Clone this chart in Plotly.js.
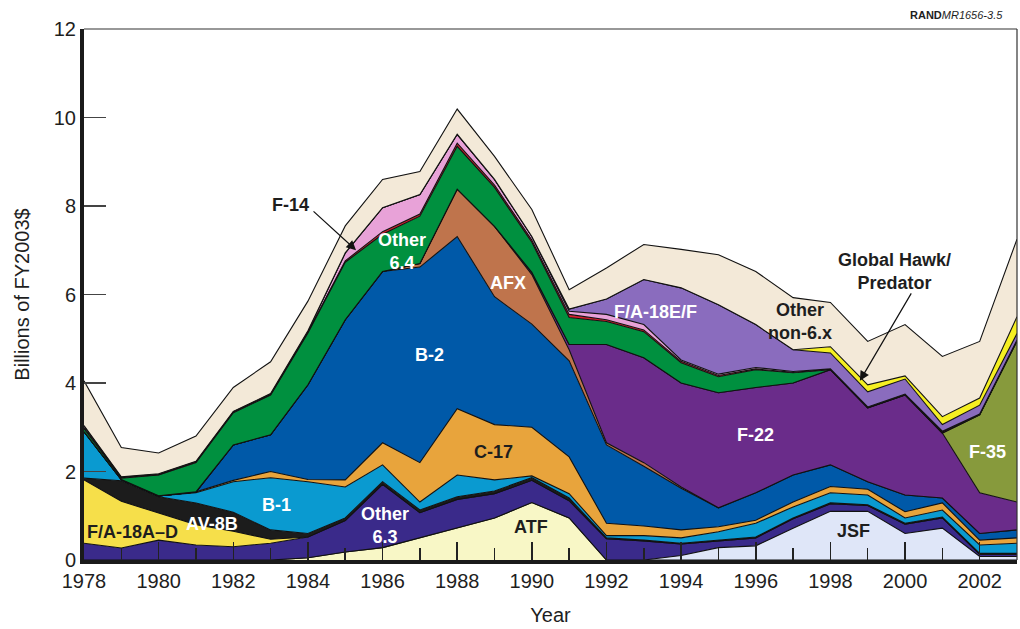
<!DOCTYPE html>
<html>
<head>
<meta charset="utf-8">
<script src="https://cdn.plot.ly/plotly-3.0.1.min.js"></script>
<style>
  html, body { margin: 0; padding: 0; background: #ffffff; }
  #chart { width: 1020px; height: 629px; }
</style>
</head>
<body>
<div id="chart"></div>
<script>
// Years
const years = [1978,1979,1980,1981,1982,1983,1984,1985,1986,1987,1988,1989,1990,
               1991,1992,1993,1994,1995,1996,1997,1998,1999,2000,2001,2002,2003];

// Series values (billions of FY2003$), stacked from bottom to top
const atf      = [0,0,0,0,0,0,0.05,0.18,0.28,0.5,0.72,0.95,1.3,0.95,0,0,0,0,0,0,0,0,0,0,0,0];
const jsf      = [0,0,0,0,0,0,0,0,0,0,0,0,0,0,0,0,0.1,0.28,0.32,0.72,1.1,1.1,0.6,0.72,0.08,0.08];
const other63  = [0.38,0.27,0.45,0.34,0.3,0.38,0.47,0.71,1.43,0.57,0.65,0.55,0.5,0.39,0.48,0.43,0.26,0.15,0.18,0.21,0.17,0.13,0.21,0.23,0.05,0.05];
const fa18ad   = [1.43,1.06,0.61,0.46,0.35,0.09,0,0,0,0,0,0,0,0,0,0,0,0,0,0,0,0,0,0,0,0];
const av8b     = [0.04,0.46,0.37,0.49,0.43,0.21,0.08,0.06,0.06,0.06,0.06,0.06,0.06,0.06,0.02,0.02,0.02,0.02,0.02,0.02,0.02,0.02,0.02,0.02,0.02,0.02];
const b1       = [1.05,0.03,0.02,0.23,0.69,1.18,1.17,0.7,0.38,0.18,0.49,0.25,0.04,0.1,0.05,0.1,0.12,0.19,0.31,0.25,0.23,0.22,0.12,0.16,0.19,0.23];
const c17      = [0,0,0,0.02,0.03,0.14,0.05,0.16,0.5,0.89,1.5,1.25,1.1,0.83,0.28,0.22,0.18,0.11,0.07,0.11,0.14,0.13,0.14,0.16,0.11,0.12];
const b2       = [0,0,0,0,0.8,0.83,2.14,3.62,3.87,4.42,3.89,2.89,2.33,2.17,1.77,1.35,0.94,0.43,0.62,0.61,0.49,0.17,0.38,0.11,0.15,0.18];
const afx      = [0,0,0,0,0,0,0,0,0,0.08,1.07,1.59,1.12,0.25,0.05,0.08,0.03,0,0,0,0,0,0,0,0,0];
const f22      = [0,0,0,0,0,0,0,0,0,0,0,0,0.05,0.12,2.22,2.37,2.35,2.6,2.38,2.08,2.15,1.67,2.26,1.47,0.92,0.63];
const f35      = [0,0,0,0,0,0,0,0,0,0,0,0,0,0,0,0,0,0,0,0,0,0,0,0,1.76,3.64];
const other64  = [0.07,0.03,0.47,0.66,0.73,0.9,1.17,1.3,0.84,1.07,0.97,0.88,0.68,0.61,0.52,0.59,0.46,0.36,0.4,0.23,0,0,0,0,0,0];
const otherRed = [0.02,0.01,0.01,0.01,0.01,0.01,0.02,0.03,0.06,0.05,0.07,0.05,0.05,0.07,0.04,0.04,0.03,0.03,0.02,0.01,0.01,0.01,0.01,0.02,0.01,0.01];
const f14      = [0.05,0.02,0.02,0.02,0.02,0.02,0.03,0.18,0.54,0.44,0.2,0.13,0.08,0.07,0.12,0.12,0.03,0.03,0.03,0.02,0.01,0.01,0.01,0.02,0.01,0.01];
const fa18ef   = [0,0,0,0,0,0,0,0,0,0,0,0,0,0.05,0.35,1.02,1.63,1.57,0.97,0.49,0.36,0.34,0.34,0.15,0.2,0.15];
const ghawk    = [0,0,0,0,0,0,0,0,0,0,0,0,0,0,0,0,0,0,0,0,0.14,0.16,0.07,0.18,0.16,0.38];
const nonsix   = [1.01,0.66,0.47,0.57,0.54,0.72,0.67,0.61,0.64,0.52,0.57,0.52,0.61,0.44,0.7,0.79,0.87,1.13,1.2,1.18,1.0,0.98,1.16,1.36,1.28,1.75];

const seriesNames  = ['ATF','JSF','Other 6.3','F/A-18A–D','AV-8B','B-1','C-17','B-2','AFX','F-22','F-35',
                      'Other 6.4','Other (red)','F-14','F/A-18E/F','Global Hawk/Predator','Other non-6.x'];
const seriesValues = [atf,jsf,other63,fa18ad,av8b,b1,c17,b2,afx,f22,f35,other64,otherRed,f14,fa18ef,ghawk,nonsix];
const seriesColors = ['#f8f7c6','#dfe6f8','#3a2a8a','#f6df4a','#1c1c1c','#0a9ad0','#e8a43c','#0059a8','#bf744c',
                      '#6a2c8a','#879a3c','#00903f','#d3202e','#e8a2d8','#8a6cbe','#f5ef22','#f3e9d8'];

const traces = seriesNames.map((name, i) => ({
  type: 'scatter',
  mode: 'lines',
  name: name,
  x: years,
  y: seriesValues[i],
  stackgroup: 'one',
  fillcolor: seriesColors[i],
  line: { color: '#111111', width: 1.1, shape: 'linear' },
  hoverinfo: 'skip',
  showlegend: false
}));

const FONT = 'Liberation Sans, Arial, Helvetica, sans-serif';
const DARK = '#1e1e1e';

function lbl(x, y, text, color) {
  return { x: x, y: y, xref: 'x', yref: 'y', text: '<b>' + text + '</b>', showarrow: false,
           font: { family: FONT, size: 18, color: color }, align: 'center' };
}

const annotations = [
  lbl(1979.31, 0.63, 'F/A-18A–D', DARK),
  lbl(1981.43, 0.81, 'AV-8B', '#ffffff'),
  lbl(1983.17, 1.24, 'B-1', '#ffffff'),
  lbl(1986.07, 0.77, 'Other<br>6.3', '#ffffff'),
  lbl(1989.98, 0.75, 'ATF', DARK),
  lbl(1988.96, 2.44, 'C-17', DARK),
  lbl(1987.27, 4.63, 'B-2', '#ffffff'),
  lbl(1989.36, 6.26, 'AFX', '#ffffff'),
  lbl(1986.52, 6.98, 'Other<br>6.4', '#ffffff'),
  lbl(1983.52, 8.02, 'F-14', DARK),
  lbl(1993.30, 5.60, 'F/A-18E/F', '#ffffff'),
  lbl(1997.19, 5.38, 'Other<br>non-6.x', DARK),
  lbl(1999.73, 6.53, 'Global Hawk/<br>Predator', DARK),
  lbl(1995.98, 2.82, 'F-22', '#ffffff'),
  lbl(2002.22, 2.44, 'F-35', '#ffffff'),
  lbl(1998.61, 0.66, 'JSF', DARK),
  // arrows
  { x: 1985.29, y: 7.0, ax: 1984.11, ay: 7.91, xref: 'x', yref: 'y', axref: 'x', ayref: 'y',
    text: '', showarrow: true, arrowhead: 2, arrowsize: 1.6, arrowwidth: 1.2, arrowcolor: '#111' },
  { x: 1998.79, y: 4.05, ax: 2000.19, ay: 6.06, xref: 'x', yref: 'y', axref: 'x', ayref: 'y',
    text: '', showarrow: true, arrowhead: 2, arrowsize: 1.6, arrowwidth: 1.2, arrowcolor: '#111' },
  // source tag
  { x: 0.987, y: 1.027, xref: 'paper', yref: 'paper', xanchor: 'right', yanchor: 'middle',
    text: '<b>RAND</b><i>MR1656-3.5</i>', showarrow: false,
    font: { family: FONT, size: 11, color: DARK } }
];

const layout = {
  width: 1020, height: 629,
  margin: { l: 84, r: 3, t: 29, b: 69 },
  paper_bgcolor: '#ffffff', plot_bgcolor: '#ffffff',
  font: { family: FONT, color: DARK },
  showlegend: false,
  xaxis: {
    range: [1978, 2003], tick0: 1978, dtick: 2, ticks: 'inside', ticklen: 18, tickwidth: 1.5,
    tickcolor: '#222', showline: true, linewidth: 4, linecolor: '#1a1a1a',
    showgrid: false, zeroline: false, tickfont: { size: 20, color: DARK },
    minor: { tick0: 1978, dtick: 1, ticks: 'inside', ticklen: 12, tickwidth: 1.5, tickcolor: '#222', showgrid: false },
    title: { text: 'Year', font: { size: 20, color: DARK }, standoff: 18 }
  },
  yaxis: {
    range: [0, 12], dtick: 2, ticks: 'inside', ticklen: 22, tickwidth: 1.5, tickcolor: '#444',
    showline: true, linewidth: 4, linecolor: '#1a1a1a',
    showgrid: false, zeroline: false, tickfont: { size: 20, color: DARK },
    title: { text: 'Billions of FY2003$', font: { size: 20, color: DARK }, standoff: 20 }
  },
  shapes: [
    { type: 'line', xref: 'paper', yref: 'paper', x0: 0, x1: 1, y0: 1, y1: 1, line: { color: '#333', width: 1.2 } },
    { type: 'line', xref: 'paper', yref: 'paper', x0: 1, x1: 1, y0: 0, y1: 1, line: { color: '#333', width: 1.2 } }
  ],
  annotations: annotations
};

Plotly.newPlot('chart', traces, layout, { displayModeBar: false, staticPlot: true });
</script>
</body>
</html>
